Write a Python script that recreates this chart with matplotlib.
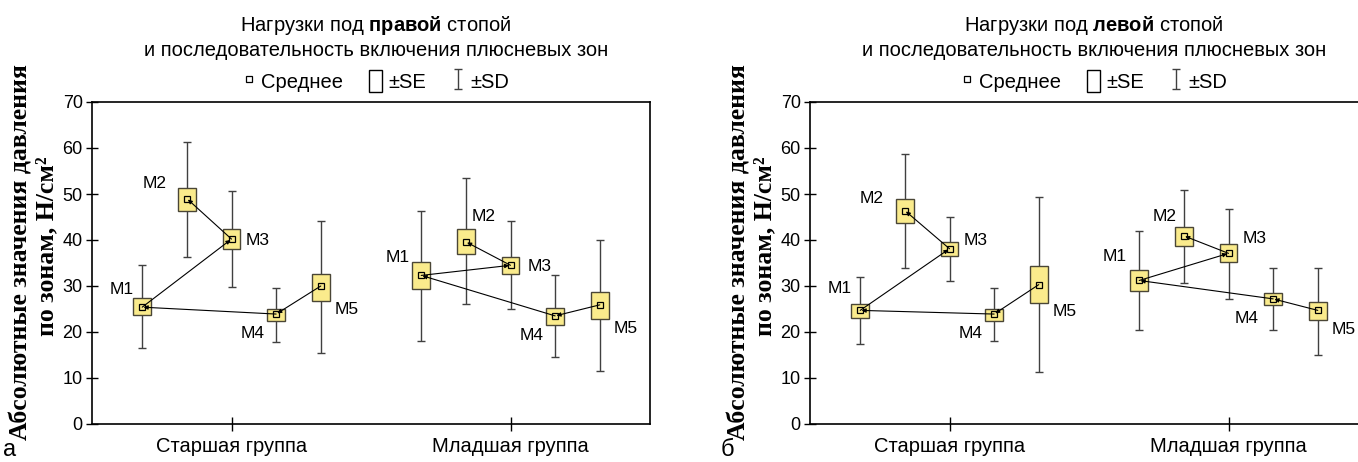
import numpy as np
import matplotlib
matplotlib.use("Agg")
import matplotlib.pyplot as plt
from matplotlib.patches import Patch
from matplotlib.lines import Line2D

plt.rcParams['font.family'] = ['Liberation Sans', 'DejaVu Sans']
plt.rcParams['mathtext.fontset'] = 'custom'
plt.rcParams['mathtext.rm'] = 'Liberation Sans'
plt.rcParams['mathtext.bf'] = 'Liberation Sans:bold'

# Data: rows = groups, cols = zones M1..M5
groups = ['Старшая группа', 'Младшая группа']
zones = ['M1', 'M2', 'M3', 'M4', 'M5']

# right foot (panel а)
right_mean = [[25.4, 49.0, 40.2, 23.9, 30.0],
              [32.3, 39.6, 34.5, 23.5, 25.9]]
right_se_lo = [[23.6, 46.3, 38.0, 22.5, 26.8],
               [29.4, 37.0, 32.7, 21.6, 22.8]]
right_se_hi = [[27.4, 51.4, 42.5, 24.9, 32.7],
               [35.2, 42.5, 36.4, 25.2, 28.7]]
right_sd_lo = [[16.5, 36.3, 29.8, 17.8, 15.5],
               [18.1, 26.1, 24.9, 14.5, 11.5]]
right_sd_hi = [[34.5, 61.4, 50.6, 29.6, 44.1],
               [46.4, 53.4, 44.1, 32.3, 40.0]]

# left foot (panel б)
left_mean = [[24.7, 46.4, 38.1, 23.9, 30.3],
             [31.2, 40.9, 37.1, 27.2, 24.7]]
left_se_lo = [[23.0, 43.8, 36.6, 22.5, 26.4],
              [29.0, 38.7, 35.3, 25.9, 22.7]]
left_se_hi = [[26.1, 48.9, 39.5, 24.9, 34.3],
              [33.4, 42.8, 39.1, 28.5, 26.5]]
left_sd_lo = [[17.3, 33.9, 31.0, 18.1, 11.3],
              [20.5, 30.6, 27.2, 20.5, 15.1]]
left_sd_hi = [[31.9, 58.8, 45.1, 29.5, 49.3],
              [42.0, 50.9, 46.7, 34.0, 33.9]]

# order in which metatarsal zones are switched on (indices into zones)
sequence = [4, 3, 0, 2, 1]

# label offsets in points (layout only)
right_offsets = [[(-15, 13), (-23, 11), (19, -1), (-17, -14), (19, -17)],
                 [(-17, 13), (13, 18), (21, -1), (-17, -14), (19, -17)]]
left_offsets = [[(-15, 16), (-24, 9), (19, 6), (-17, -14), (19, -19)],
                [(-18, 17), (-14, 14), (19, 11), (-19, -14), (19, -14)]]

BOX_COLOR = '#FAEB8C'
BOX_EDGE = '#4a4636'
WHISKER = '#404040'
step = 0.16
box_w = 0.064
TITLE_FS = 14.5


def draw_panel(ax, mean, se_lo, se_hi, sd_lo, sd_hi, offsets, foot_word):
    sd_handle = None
    for g in range(len(groups)):
        xs = g + (np.arange(len(zones)) - 2) * step
        m = np.array(mean[g])
        sd_handle = ax.errorbar(xs, m, yerr=[m - np.array(sd_lo[g]), np.array(sd_hi[g]) - m],
                                fmt='none', ecolor=WHISKER, elinewidth=1, capsize=3,
                                capthick=1, zorder=1)
        ax.bar(xs, np.array(se_hi[g]) - np.array(se_lo[g]), bottom=se_lo[g], width=box_w,
               color=BOX_COLOR, edgecolor=BOX_EDGE, linewidth=1, zorder=2)
        for a, b in zip(sequence[:-1], sequence[1:]):
            ax.annotate('', xy=(xs[b], m[b]), xytext=(xs[a], m[a]),
                        arrowprops=dict(arrowstyle='-|>', color='black', lw=0.8,
                                        mutation_scale=6, shrinkA=0, shrinkB=1),
                        zorder=3)
        ax.plot(xs, m, ls='none', marker='s', ms=4.5, mfc='none', mec='black',
                mew=0.9, zorder=4)
        for i, z in enumerate(zones):
            ax.annotate(z, xy=(xs[i], m[i]), xytext=offsets[g][i],
                        textcoords='offset points', ha='center', va='center',
                        fontsize=12.5)

    ax.set_xlim(-0.5, 1.5)
    ax.set_ylim(0, 70)
    ax.set_yticks(np.arange(0, 71, 10))
    ax.set_xticks(range(len(groups)))
    ax.set_xticklabels(groups, fontsize=TITLE_FS)
    ax.tick_params(axis='x', direction='inout', length=10, width=1, pad=4)
    ax.tick_params(axis='y', direction='inout', length=8.5, width=1, pad=2.5,
                   labelsize=13)
    for s in ax.spines.values():
        s.set_linewidth(1.2)

    ax.text(0.509, 1.239, 'Нагрузки под $\\mathbf{' + foot_word + '}$ стопой',
            transform=ax.transAxes, ha='center', va='center', fontsize=TITLE_FS)
    ax.text(0.509, 1.161, 'и последовательность включения плюсневых зон',
            transform=ax.transAxes, ha='center', va='center', fontsize=TITLE_FS)

    h_mean = Line2D([], [], ls='none', marker='s', ms=4.5, mfc='white', mec='black', mew=0.9)
    h_se = Patch(facecolor='white', edgecolor='black', linewidth=1)
    ax.legend([h_mean, h_se, sd_handle], ['Среднее', '±SE', '±SD'], ncol=3,
              loc='center', bbox_to_anchor=(0.509, 1.065), frameon=False,
              fontsize=TITLE_FS, handlelength=0.62, handleheight=1.35, handletextpad=0.3,
              columnspacing=1.3, borderpad=0, borderaxespad=0)


W, H = 1358, 462
fig = plt.figure(figsize=(W / 100, H / 100), dpi=100)
ax1 = fig.add_axes([92 / W, 1 - 424 / H, 558 / W, 322 / H])
ax2 = fig.add_axes([810 / W, 1 - 424 / H, 558 / W, 322 / H])

draw_panel(ax1, right_mean, right_se_lo, right_se_hi, right_sd_lo, right_sd_hi,
           right_offsets, 'правой')
draw_panel(ax2, left_mean, left_se_lo, left_se_hi, left_sd_lo, left_sd_hi,
           left_offsets, 'левой')

# y labels and panel letters
for x0, letter in [(0, 'а'), (718, 'б')]:
    fig.text((x0 + 21) / W, 1 - 252 / H, 'Абсолютные значения давления',
             rotation=90, ha='center', va='center', fontsize=18.5,
             family='Liberation Serif', weight='bold')
    fig.text((x0 + 47) / W, 1 - 246 / H, 'по зонам, Н/см²',
             rotation=90, ha='center', va='center', fontsize=18.5,
             family='Liberation Serif', weight='bold')
    fig.text((x0 + 3) / W, 5.5 / H, letter, ha='left', va='baseline', fontsize=17)

fig.savefig('out.png', dpi=100)
